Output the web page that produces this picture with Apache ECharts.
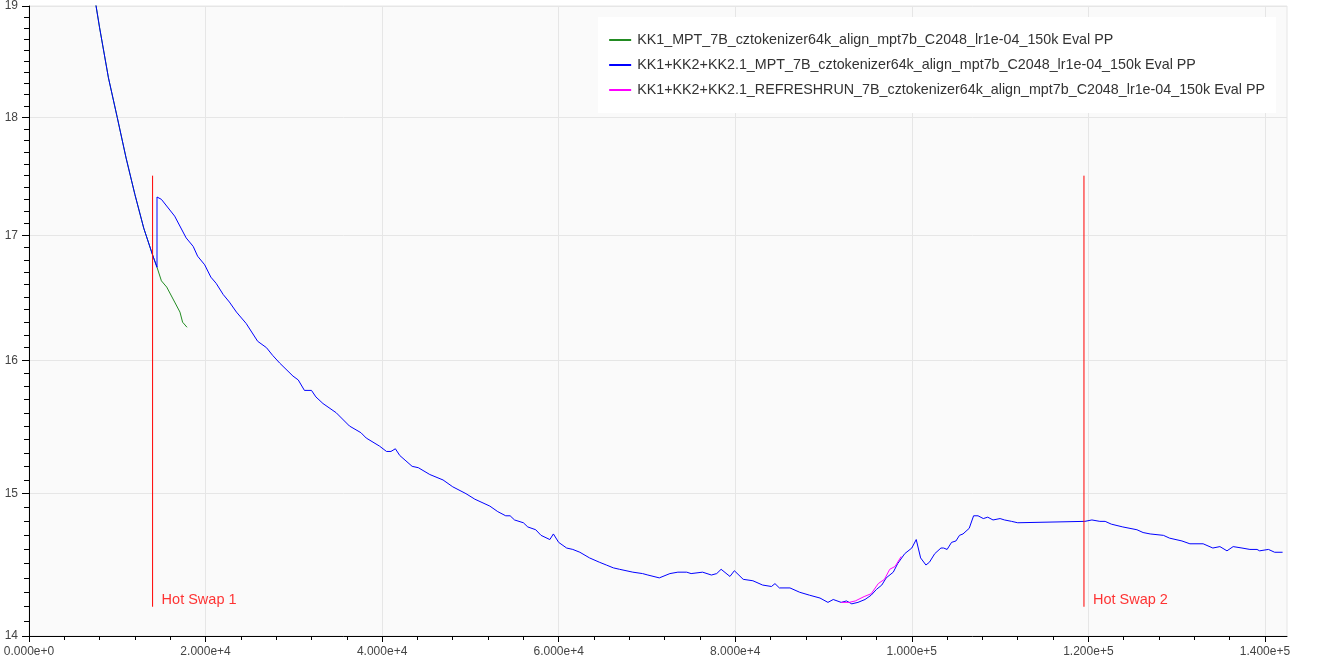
<!DOCTYPE html>
<html><head><meta charset="utf-8">
<script src="https://cdn.jsdelivr.net/npm/echarts@6/dist/echarts.min.js"></script>
<style>html,body{margin:0;padding:0;background:#fff}#c{width:1320px;height:660px}</style>
</head><body><div id="c"></div>
<script>
const seriesNames = [
  'KK1_MPT_7B_cztokenizer64k_align_mpt7b_C2048_lr1e-04_150k Eval PP',
  'KK1+KK2+KK2.1_MPT_7B_cztokenizer64k_align_mpt7b_C2048_lr1e-04_150k Eval PP',
  'KK1+KK2+KK2.1_REFRESHRUN_7B_cztokenizer64k_align_mpt7b_C2048_lr1e-04_150k Eval PP'
];
const seriesColors = ['#228b22', '#0000ff', '#ff00ff'];

const greenSteps = [6000,7000,8000,9000,10000,11000,12000,13000,14000,14500,15000,15600,16500,17100,17400,17900];
const greenPP    = [19.7,19.3,18.8,18.35,18.0,17.65,17.34,17.06,16.84,16.74,16.63,16.58,16.46,16.38,16.30,16.26];

const blueSteps = [6000,7000,8000,9000,10000,11000,12000,13000,14000,14500,
  14500,15000,16500,17800,18600,19100,19900,20600,21200,22000,22700,23500,24600,25900,26900,27600,28400,29900,30500,31200,32000,32500,33300,34800,36300,37600,38200,39700,40500,41000,41500,42000,42700,43400,44100,45400,46900,48000,49500,50500,52200,53100,54000,54500,55000,56000,56500,57400,58000,59000,59400,60000,60900,61600,62400,63500,64600,65400,66200,66900,68400,69500,70100,71400,72600,73500,74500,75000,76300,77300,77900,78400,79400,79900,80900,82000,83100,84100,84500,85000,86200,87300,88400,89600,90500,91100,92000,92600,93200,93900,94700,95400,96000,96600,97100,97900,98400,99200,100000,100500,101000,101600,102000,102600,103300,103600,104000,104500,105000,105400,105800,106500,107000,107500,108100,108600,109200,110000,110500,111300,112000,119600,120400,121300,121900,122600,123900,125500,126200,127000,128500,129200,130600,131500,133000,134100,134900,135700,136400,137400,138300,139100,139400,140400,141100,142000];
const bluePP = [19.7,19.3,18.8,18.35,18.0,17.65,17.34,17.06,16.84,16.74,
  17.32,17.30,17.16,16.98,16.91,16.83,16.76,16.66,16.61,16.52,16.46,16.38,16.29,16.15,16.10,16.04,15.98,15.88,15.85,15.77,15.77,15.72,15.67,15.60,15.50,15.45,15.41,15.35,15.31,15.31,15.33,15.28,15.24,15.20,15.19,15.14,15.10,15.05,15.00,14.96,14.91,14.87,14.84,14.84,14.81,14.79,14.76,14.74,14.70,14.67,14.71,14.65,14.61,14.60,14.58,14.54,14.51,14.49,14.47,14.46,14.44,14.43,14.42,14.40,14.43,14.44,14.44,14.43,14.44,14.42,14.43,14.46,14.41,14.45,14.39,14.38,14.35,14.34,14.36,14.33,14.33,14.30,14.28,14.26,14.23,14.25,14.23,14.24,14.22,14.23,14.25,14.28,14.32,14.35,14.40,14.44,14.50,14.57,14.61,14.67,14.54,14.49,14.51,14.57,14.61,14.61,14.60,14.65,14.66,14.70,14.71,14.75,14.84,14.84,14.82,14.83,14.81,14.82,14.81,14.80,14.79,14.80,14.81,14.80,14.80,14.78,14.76,14.74,14.72,14.71,14.70,14.68,14.66,14.64,14.64,14.61,14.62,14.59,14.62,14.61,14.60,14.60,14.59,14.60,14.58,14.58];

const magentaSteps = [92000,92900,93600,94600,95400,96200,96900,97500,98100,98800];
const magentaPP    = [14.23,14.23,14.24,14.27,14.29,14.36,14.39,14.46,14.48,14.55];

const hotSwapNames = ['Hot Swap 1', 'Hot Swap 2'];
const hotSwapSteps = [14000, 119500];
const hotSwapLow = 14.2;
const hotSwapHigh = 17.5;

const xTicks = [0, 20000, 40000, 60000, 80000, 100000, 120000, 140000];
const yMajorTicks = [14, 15, 16, 17, 18, 19];
const yMinorTicks = [14.1,14.2,14.3,14.4,14.5,14.6,14.7,14.8,14.9,
  15.1,15.2,15.3,15.4,15.5,15.6,15.7,15.8,15.9,
  16.1,16.2,16.3,16.4,16.5,16.6,16.7,16.8,16.9,
  17.1,17.2,17.3,17.4,17.5,17.6,17.7,17.8,17.9,
  18.1,18.2,18.3,18.4,18.5,18.6,18.7,18.8,18.9];

const zip = (xs, ys) => xs.map((x, i) => [x, ys[i]]);
const FONT = '"Liberation Sans", Arial, Helvetica, sans-serif';
const GRID = '#e6e6e6';

const chart = echarts.init(document.getElementById('c'), null, {renderer: 'canvas'});

const dataSeries = [
  [greenSteps, greenPP], [blueSteps, bluePP], [magentaSteps, magentaPP]
].map((d, i) => ({
  name: seriesNames[i], type: 'line', xAxisIndex: 0, yAxisIndex: 0,
  data: zip(d[0], d[1]), symbol: 'none', showSymbol: false, clip: true,
  color: seriesColors[i], lineStyle: {color: seriesColors[i], width: 1}, z: 3 + i
}));

const hotSwapLines = hotSwapSteps.map((x, i) => ({
  type: 'line', xAxisIndex: 0, yAxisIndex: 0, symbol: 'none', silent: true,
  data: [[x, hotSwapLow], [x, hotSwapHigh]],
  lineStyle: {color: '#ff0000', width: 1}, color: '#ff0000', z: 10
}));

const hotSwapLabels = {
  type: 'scatter', xAxisIndex: 0, yAxisIndex: 0, symbolSize: 0, silent: true, z: 10,
  data: hotSwapSteps.map((x, i) => ({value: [x, hotSwapLow], label: {formatter: hotSwapNames[i]}})),
  label: {show: true, position: 'right', distance: 9, offset: [0, -7], color: '#ff0000', fontSize: 14.5, fontFamily: FONT}
};

chart.setOption({
  animation: false,
  textStyle: {fontFamily: FONT},
  grid: {left: 29, right: 33, top: 6, bottom: 24, show: true, backgroundColor: '#fafafa',
         borderColor: GRID, borderWidth: 1, containLabel: false, outerBoundsMode: 'none'},
  legend: {
    data: seriesNames, orient: 'vertical', right: 44, top: 17, align: 'left',
    icon: 'rect', padding: [16, 11, 16, 11], itemGap: 11, itemWidth: 22, itemHeight: 2,
    backgroundColor: '#ffffff',
    textStyle: {fontSize: 14.3, color: '#333', fontFamily: FONT, padding: [0, 0, 0, 1]}
  },
  xAxis: {
    type: 'value', min: 0, max: 142500, interval: 20000,
    axisLine: {show: true, lineStyle: {color: '#000', width: 1}},
    axisTick: {show: true, customValues: xTicks, length: 6, lineStyle: {color: '#000'}},
    minorTick: {show: true, splitNumber: 5, length: 4, lineStyle: {color: '#000'}},
    axisLabel: {customValues: xTicks, formatter: v => Number(v).toExponential(3), color: '#444', fontSize: 12, margin: 10, fontFamily: FONT},
    splitLine: {show: true, lineStyle: {color: GRID}}
  },
  yAxis: [
    {
      type: 'log', min: 14, max: 19, position: 'left',
      axisLine: {show: true, lineStyle: {color: '#000', width: 1}},
      axisTick: {show: true, customValues: yMajorTicks, length: 7, lineStyle: {color: '#000'}},
      axisLabel: {customValues: yMajorTicks, formatter: v => String(Math.round(v)), color: '#444', fontSize: 12, margin: 11, fontFamily: FONT},
      splitLine: {show: true, lineStyle: {color: GRID}},
      minorTick: {show: false}
    },
    {
      type: 'log', min: 14, max: 19, position: 'left',
      axisLine: {show: false},
      axisTick: {show: true, customValues: yMinorTicks, length: 5, lineStyle: {color: '#000'}},
      axisLabel: {show: false},
      splitLine: {show: false},
      minorTick: {show: false}
    }
  ],
  series: dataSeries.concat(hotSwapLines, [hotSwapLabels])
});
</script></body></html>
